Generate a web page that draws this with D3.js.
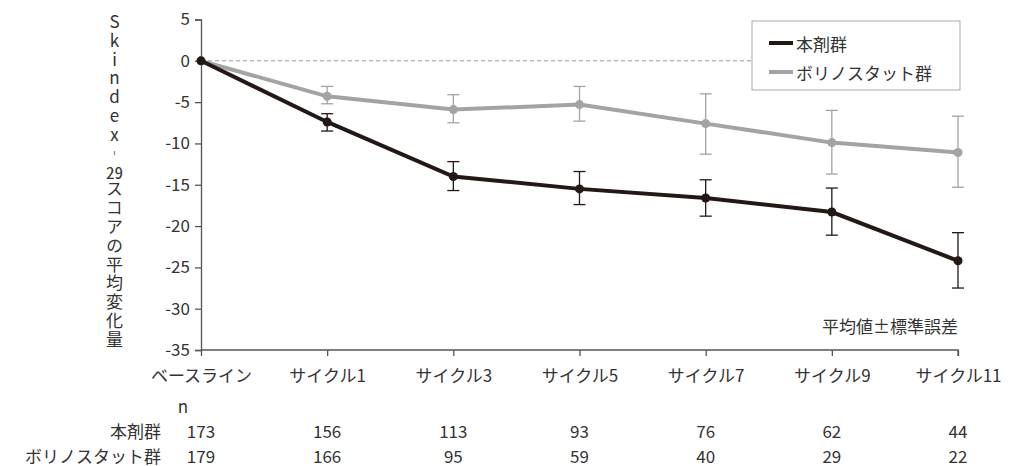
<html>
    <head>
        <meta charset="utf-8">
    </head>

    <body>

        <script src='https://d3js.org/d3.v7.min.js' charset='utf-8'></script>
        <script type="text/javascript">

        // data
        var categories = ["ベースライン", "サイクル1", "サイクル3", "サイクル5", "サイクル7", "サイクル9", "サイクル11"];
        var drugMean = [0, -7.4, -14.0, -15.5, -16.6, -18.3, -24.2];
        var drugLow  = [0, -8.5, -15.7, -17.4, -18.8, -21.1, -27.5];
        var drugHigh = [0, -6.4, -12.2, -13.4, -14.4, -15.4, -20.8];
        var voriMean = [0, -4.3, -5.9, -5.3, -7.6, -9.9, -11.1];
        var voriLow  = [0, -5.2, -7.5, -7.3, -11.3, -13.7, -15.3];
        var voriHigh = [0, -3.1, -4.1, -3.1, -4.0, -6.0, -6.7];
        var drugN = [173, 156, 113, 93, 76, 62, 44];
        var voriN = [179, 166, 95, 59, 40, 29, 22];
        var yTicks = [5, 0, -5, -10, -15, -20, -25, -30, -35];
        var seriesNames = ["本剤群", "ボリノスタット群"];
        var yLabelParts = ["Skindex︲", "29", "スコアの平均変化量"];

        var width = 1010;
        var height = 466;
        var font = "'Noto Sans CJK JP', 'Noto Sans', sans-serif";
        var textColor = "#333";

        var body = d3.select("body")
            .style("margin", "0")
            .style("position", "relative");

        var svg = body.append("svg")
            .attr("width", width)
            .attr("height", height)
            .style("display", "block")
            .style("background", "#fff")
            .style("font-family", font);

        // scales
        var x = d3.scalePoint().domain(categories).range([201, 958]);
        var y = d3.scaleLinear().domain([-35, 5]).range([350, 19.5]);

        // y axis
        var yAxis = svg.append("g")
            .attr("transform", "translate(201,0)")
            .call(d3.axisLeft(y).tickValues(yTicks).tickSize(6).tickPadding(5).tickFormat(function(d) { return d; }));
        yAxis.select(".domain").attr("stroke", "#555").attr("stroke-width", 1.3);
        yAxis.selectAll(".tick line").attr("stroke", "#555").attr("stroke-width", 1.3);
        yAxis.selectAll(".tick text")
            .attr("fill", textColor)
            .style("font-size", "17px")
            .style("font-family", font);

        // x axis
        var xAxis = svg.append("g")
            .attr("transform", "translate(0,350)")
            .call(d3.axisBottom(x).tickSize(6).tickPadding(14));
        xAxis.select(".domain").attr("stroke", "#555").attr("stroke-width", 1.3)
            .attr("d", "M201,0H958V6");
        xAxis.selectAll(".tick line").attr("stroke", "#555").attr("stroke-width", 1.3);
        xAxis.selectAll(".tick text")
            .attr("fill", textColor)
            .style("font-size", "17px")
            .style("font-family", font);

        // zero reference line
        svg.append("line")
            .attr("x1", 201).attr("x2", 958)
            .attr("y1", y(0)).attr("y2", y(0))
            .attr("stroke", "#999")
            .attr("stroke-width", 1)
            .attr("stroke-dasharray", "4,3");

        // y axis label, vertical text (upright characters, "29" combined)
        var yLabel = body.append("div")
            .style("position", "absolute")
            .style("left", "104px")
            .style("top", "13px")
            .style("width", "20px")
            .style("writing-mode", "vertical-rl")
            .style("text-orientation", "upright")
            .style("letter-spacing", "1.8px")
            .style("line-height", "20px")
            .style("font-family", font)
            .style("font-size", "17px")
            .style("color", textColor)
            .style("white-space", "nowrap");
        yLabel.append("span").text(yLabelParts[0]);
        yLabel.append("span").style("text-combine-upright", "all").text(yLabelParts[1]);
        yLabel.append("span").text(yLabelParts[2]);

        function drawSeries(mean, low, high, color) {
            var g = svg.append("g");
            var idx = d3.range(categories.length).filter(function(i) { return i > 0; });

            g.selectAll("line.err")
                .data(idx).enter().append("line")
                    .attr("x1", function(i) { return x(categories[i]); })
                    .attr("x2", function(i) { return x(categories[i]); })
                    .attr("y1", function(i) { return y(low[i]); })
                    .attr("y2", function(i) { return y(high[i]); })
                    .attr("stroke", color).attr("stroke-width", 1.3);
            g.selectAll("line.capl")
                .data(idx).enter().append("line")
                    .attr("x1", function(i) { return x(categories[i]) - 6; })
                    .attr("x2", function(i) { return x(categories[i]) + 6; })
                    .attr("y1", function(i) { return y(low[i]); })
                    .attr("y2", function(i) { return y(low[i]); })
                    .attr("stroke", color).attr("stroke-width", 1.3);
            g.selectAll("line.caph")
                .data(idx).enter().append("line")
                    .attr("x1", function(i) { return x(categories[i]) - 6; })
                    .attr("x2", function(i) { return x(categories[i]) + 6; })
                    .attr("y1", function(i) { return y(high[i]); })
                    .attr("y2", function(i) { return y(high[i]); })
                    .attr("stroke", color).attr("stroke-width", 1.3);

            var line = d3.line()
                .x(function(d, i) { return x(categories[i]); })
                .y(function(d) { return y(d); });

            g.append("path")
                .datum(mean)
                .attr("d", line)
                .attr("fill", "none")
                .attr("stroke", color)
                .attr("stroke-width", 4);

            g.selectAll("circle")
                .data(mean).enter().append("circle")
                    .attr("cx", function(d, i) { return x(categories[i]); })
                    .attr("cy", function(d) { return y(d); })
                    .attr("r", 4.5)
                    .attr("fill", color);
        }

        drawSeries(voriMean, voriLow, voriHigh, "#a3a3a3");
        drawSeries(drugMean, drugLow, drugHigh, "#231815");

        // legend
        var legend = svg.append("g");
        legend.append("rect")
            .attr("x", 752).attr("y", 21)
            .attr("width", 208).attr("height", 69)
            .attr("fill", "#fff")
            .attr("stroke", "#aaa")
            .attr("stroke-width", 1);
        var legendColors = ["#231815", "#a3a3a3"];
        seriesNames.forEach(function(name, i) {
            var ly = 43 + i * 29;
            legend.append("line")
                .attr("x1", 769).attr("x2", 793)
                .attr("y1", ly).attr("y2", ly)
                .attr("stroke", legendColors[i])
                .attr("stroke-width", 4);
            legend.append("text")
                .attr("x", 796).attr("y", ly)
                .attr("dominant-baseline", "central")
                .attr("fill", textColor)
                .style("font-size", "17px")
                .text(name);
        });

        // note
        svg.append("text")
            .attr("x", 958).attr("y", 325)
            .attr("text-anchor", "end")
            .attr("dominant-baseline", "central")
            .attr("fill", textColor)
            .style("font-size", "17px")
            .text("平均値±標準誤差");

        // n table
        svg.append("text")
            .attr("x", 183).attr("y", 405)
            .attr("text-anchor", "middle")
            .attr("dominant-baseline", "central")
            .attr("fill", textColor)
            .style("font-size", "17px")
            .text("n");

        [drugN, voriN].forEach(function(row, r) {
            var ry = 430 + r * 25;
            svg.append("text")
                .attr("x", 161).attr("y", ry)
                .attr("text-anchor", "end")
                .attr("dominant-baseline", "central")
                .attr("fill", textColor)
                .style("font-size", "17px")
                .text(seriesNames[r]);
            svg.append("g").selectAll("text")
                .data(row).enter().append("text")
                    .attr("x", function(d, i) { return x(categories[i]); })
                    .attr("y", ry)
                    .attr("text-anchor", "middle")
                    .attr("dominant-baseline", "central")
                    .attr("fill", textColor)
                    .style("font-size", "17px")
                    .text(function(d) { return d; });
        });

        </script>

    </body>
</html>
